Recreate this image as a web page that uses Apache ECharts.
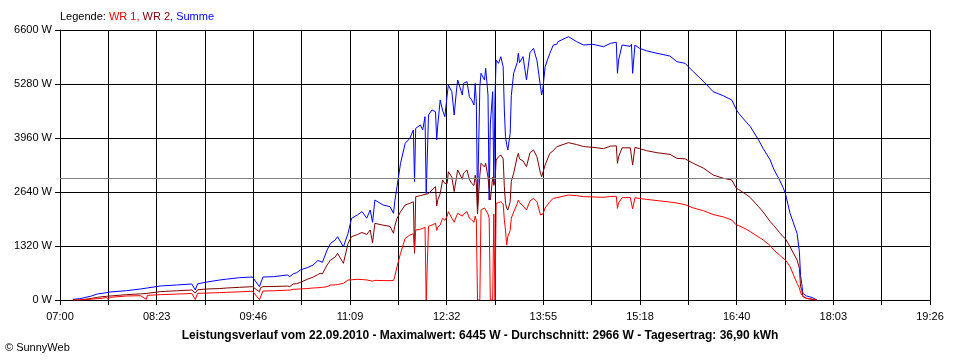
<!DOCTYPE html>
<html>
<head>
<meta charset="utf-8">
<script src="https://cdn.jsdelivr.net/npm/echarts@6/dist/echarts.min.js"></script>
<style>
html,body{margin:0;padding:0;background:#fff;}
#chart{width:960px;height:360px;}
</style>
</head>
<body>
<div id="chart"></div>
<script>
// Minutes after 07:00
const minutesAfter0700 = [11,17,27,32,36,40,41,43,57,69,74,75,86,100,113,116,118,126,137,143,154,165,171,172,174,183,195,197,200,203,206,212,217,221,223,225,229,232,236,238,243,247,250,255,259,263,266,268,270,277,283,286,287,289,292,296,300,303,304,305,309,311,313,314,316,319,322,323,324,326,328,330,332,333,336,338,340,341,345,346,349,351,353,355,356,357,358,360,361,364,365,367,368,369,371,372,373,374,376,378,380,381,382,383,384,386,387,389,392,393,394,397,400,403,406,409,412,413,414,416,420,423,426,427,436,443,449,457,466,472,477,478,479,482,489,490,491,493,497,503,512,523,529,536,543,552,560,569,576,580,582,589,592,599,603,609,612,617,620,622,626,632,634,635,636,637,640,645,646,649];
const wr1 = [0,0,20,32,40,65,16,65,98,105,16,114,130,145,160,10,163,170,180,187,200,215,10,30,220,225,240,240,261,265,270,280,293,300,305,310,326,367,370,380,407,489,495,505,500,490,473,460,480,475,473,480,570,815,1141,1508,1589,1620,1222,1711,1730,1752,1780,0,1800,1833,1874,1700,1780,1833,1996,1950,2050,2159,2000,1900,2050,2119,2050,2100,2159,2000,1956,1900,2050,1950,0,0,2200,2250,2281,2100,2000,0,0,2100,0,2363,2380,2403,2350,1956,1711,1344,1548,1700,2000,2150,2350,2444,2380,2300,2200,2420,2485,2400,2078,2050,2100,2250,2403,2485,2500,2526,2567,2550,2526,2520,2510,2530,2535,2241,2380,2500,2505,2500,2224,2500,2480,2460,2430,2395,2370,2330,2250,2180,2090,2030,1956,1833,1820,1720,1670,1540,1467,1330,1222,1100,1019,980,815,407,300,180,122,80,41,20,0,0];
const wr2 = [0,0,40,65,80,90,90,98,130,150,160,163,204,225,244,170,250,269,280,293,310,326,200,300,326,330,340,330,391,400,430,505,560,620,652,640,855,978,1050,1141,896,1385,1548,1600,1650,1600,1711,1400,1874,1830,1800,1630,1800,1996,2159,2322,2363,2400,1141,2526,2550,2567,2580,2600,2600,2689,2770,2300,2450,2600,2933,2850,2850,3137,3000,2650,3000,3178,2950,3100,3178,2950,2850,2800,3050,2850,2100,3050,3341,3250,3341,3000,2700,2444,3000,2800,2900,3422,3504,3544,3450,2770,2363,2250,2200,2400,2900,3097,3500,3585,3450,3400,3259,3600,3667,3500,3097,3015,3050,3300,3585,3650,3748,3770,3846,3800,3750,3732,3700,3760,3770,3341,3500,3720,3720,3730,3300,3730,3700,3650,3600,3560,3463,3450,3341,3219,3056,2974,2933,2730,2700,2567,2500,2281,2150,1915,1820,1650,1548,1500,1304,978,775,326,250,82,40,16,0,0];
const summe = [16,32,98,147,163,180,170,196,228,269,290,310,342,367,391,244,395,440,489,510,546,562,326,330,562,570,611,570,640,668,733,790,855,961,950,920,1222,1385,1467,1548,1300,1630,1996,2080,2159,2000,2200,1900,2444,2322,2281,2119,2400,2770,3341,3830,3952,4156,2892,4196,4278,4156,4481,2607,4522,4644,4600,3911,4300,4889,4644,4481,5011,5256,5093,4522,5133,5378,5011,5297,5337,4970,4889,4767,5297,4850,2281,5215,5541,5378,5663,5011,2444,4300,5093,2852,5000,5867,5785,5948,5700,4644,3993,3800,3667,4074,5000,5541,5800,6030,5800,5950,5378,6050,6152,5850,5215,5011,5150,5704,6030,6233,6250,6315,6437,6315,6233,6250,6192,6274,6300,5541,5867,6233,6200,6250,5541,6233,6150,6092,6030,5964,5826,5785,5582,5337,5093,4990,4889,4650,4563,4330,4237,3911,3700,3422,3200,2933,2750,2607,2119,1630,1182,600,407,163,100,60,41,0];
const xTickLabels = ['07:00','08:23','09:46','11:09','12:32','13:55','15:18','16:40','18:03','19:26'];
const yTickValues = [0,1320,2640,3960,5280,6600];
const averageValue = 2966;
const titleText = 'Leistungsverlauf vom 22.09.2010 - Maximalwert: 6445 W - Durchschnitt: 2966 W - Tagesertrag: 36,90 kWh';

const spanMinutes = 746;           // 07:00 .. 19:26
const gridStep = spanMinutes / 18;  // grid line every half label interval
const font = '"Liberation Sans", Arial, sans-serif';

function pairs(vals){ return minutesAfter0700.map((t,i)=>[t, vals[i]]); }

const chart = echarts.init(document.getElementById('chart'), null, {renderer:'canvas'});
chart.setOption({
  animation:false,
  backgroundColor:'#ffffff',
  title:[
    {left:60, top:11, padding:0,
     text:'{k|Legende: }{a|WR 1, }{b|WR 2, }{c|Summe}',
     textStyle:{fontFamily:font, fontSize:11, fontWeight:'normal',
       rich:{k:{color:'#000',fontFamily:font,fontSize:11},a:{color:'#ff0000',fontFamily:font,fontSize:11},
             b:{color:'#800000',fontFamily:font,fontSize:11},c:{color:'#0000ff',fontFamily:font,fontSize:11}}}},
    {left:'center', top:330, padding:0, text:titleText,
     textStyle:{fontFamily:font, fontSize:12, fontWeight:'bold', color:'#000'}},
    {left:5, top:342, padding:0, text:'© SunnyWeb',
     textStyle:{fontFamily:font, fontSize:11, fontWeight:'normal', color:'#000'}}
  ],
  grid:{left:60, top:30, width:870, height:270, containLabel:false},
  xAxis:{
    type:'value', min:0, max:spanMinutes, interval:gridStep,
    axisLine:{show:true, lineStyle:{color:'#000', width:1}},
    axisTick:{show:true, length:5, lineStyle:{color:'#000'}},
    splitLine:{show:true, lineStyle:{color:'#000', width:1}},
    axisLabel:{color:'#000', fontFamily:font, fontSize:11, margin:11, showMaxLabel:true, showMinLabel:true,
      formatter:function(v){ const i=Math.round(v/gridStep); return i%2===0 ? (xTickLabels[i/2]||'') : ''; }}
  },
  yAxis:{
    type:'value', min:yTickValues[0], max:yTickValues[yTickValues.length-1], interval:yTickValues[1]-yTickValues[0],
    axisLine:{show:true, lineStyle:{color:'#000', width:1}},
    axisTick:{show:true, length:5, lineStyle:{color:'#000'}},
    splitLine:{show:true, lineStyle:{color:'#000', width:1}},
    axisLabel:{color:'#000', fontFamily:font, fontSize:11, margin:8, formatter:function(v){ return String(v) + ' W'; }}
  },
  series:[
    {name:'Summe', type:'line', data:pairs(summe), showSymbol:false, color:'#0000ff',
     lineStyle:{width:1, color:'#0000ff'}, z:2,
     markLine:{silent:true, symbol:['none','none'], label:{show:false},
       lineStyle:{color:'#808080', width:1, type:'solid'}, data:[{yAxis:averageValue}]}},
    {name:'WR 2', type:'line', data:pairs(wr2), showSymbol:false, color:'#800000',
     lineStyle:{width:1, color:'#800000'}, z:3},
    {name:'WR 1', type:'line', data:pairs(wr1), showSymbol:false, color:'#ff0000',
     lineStyle:{width:1, color:'#ff0000'}, z:4}
  ]
});
</script>
</body>
</html>
